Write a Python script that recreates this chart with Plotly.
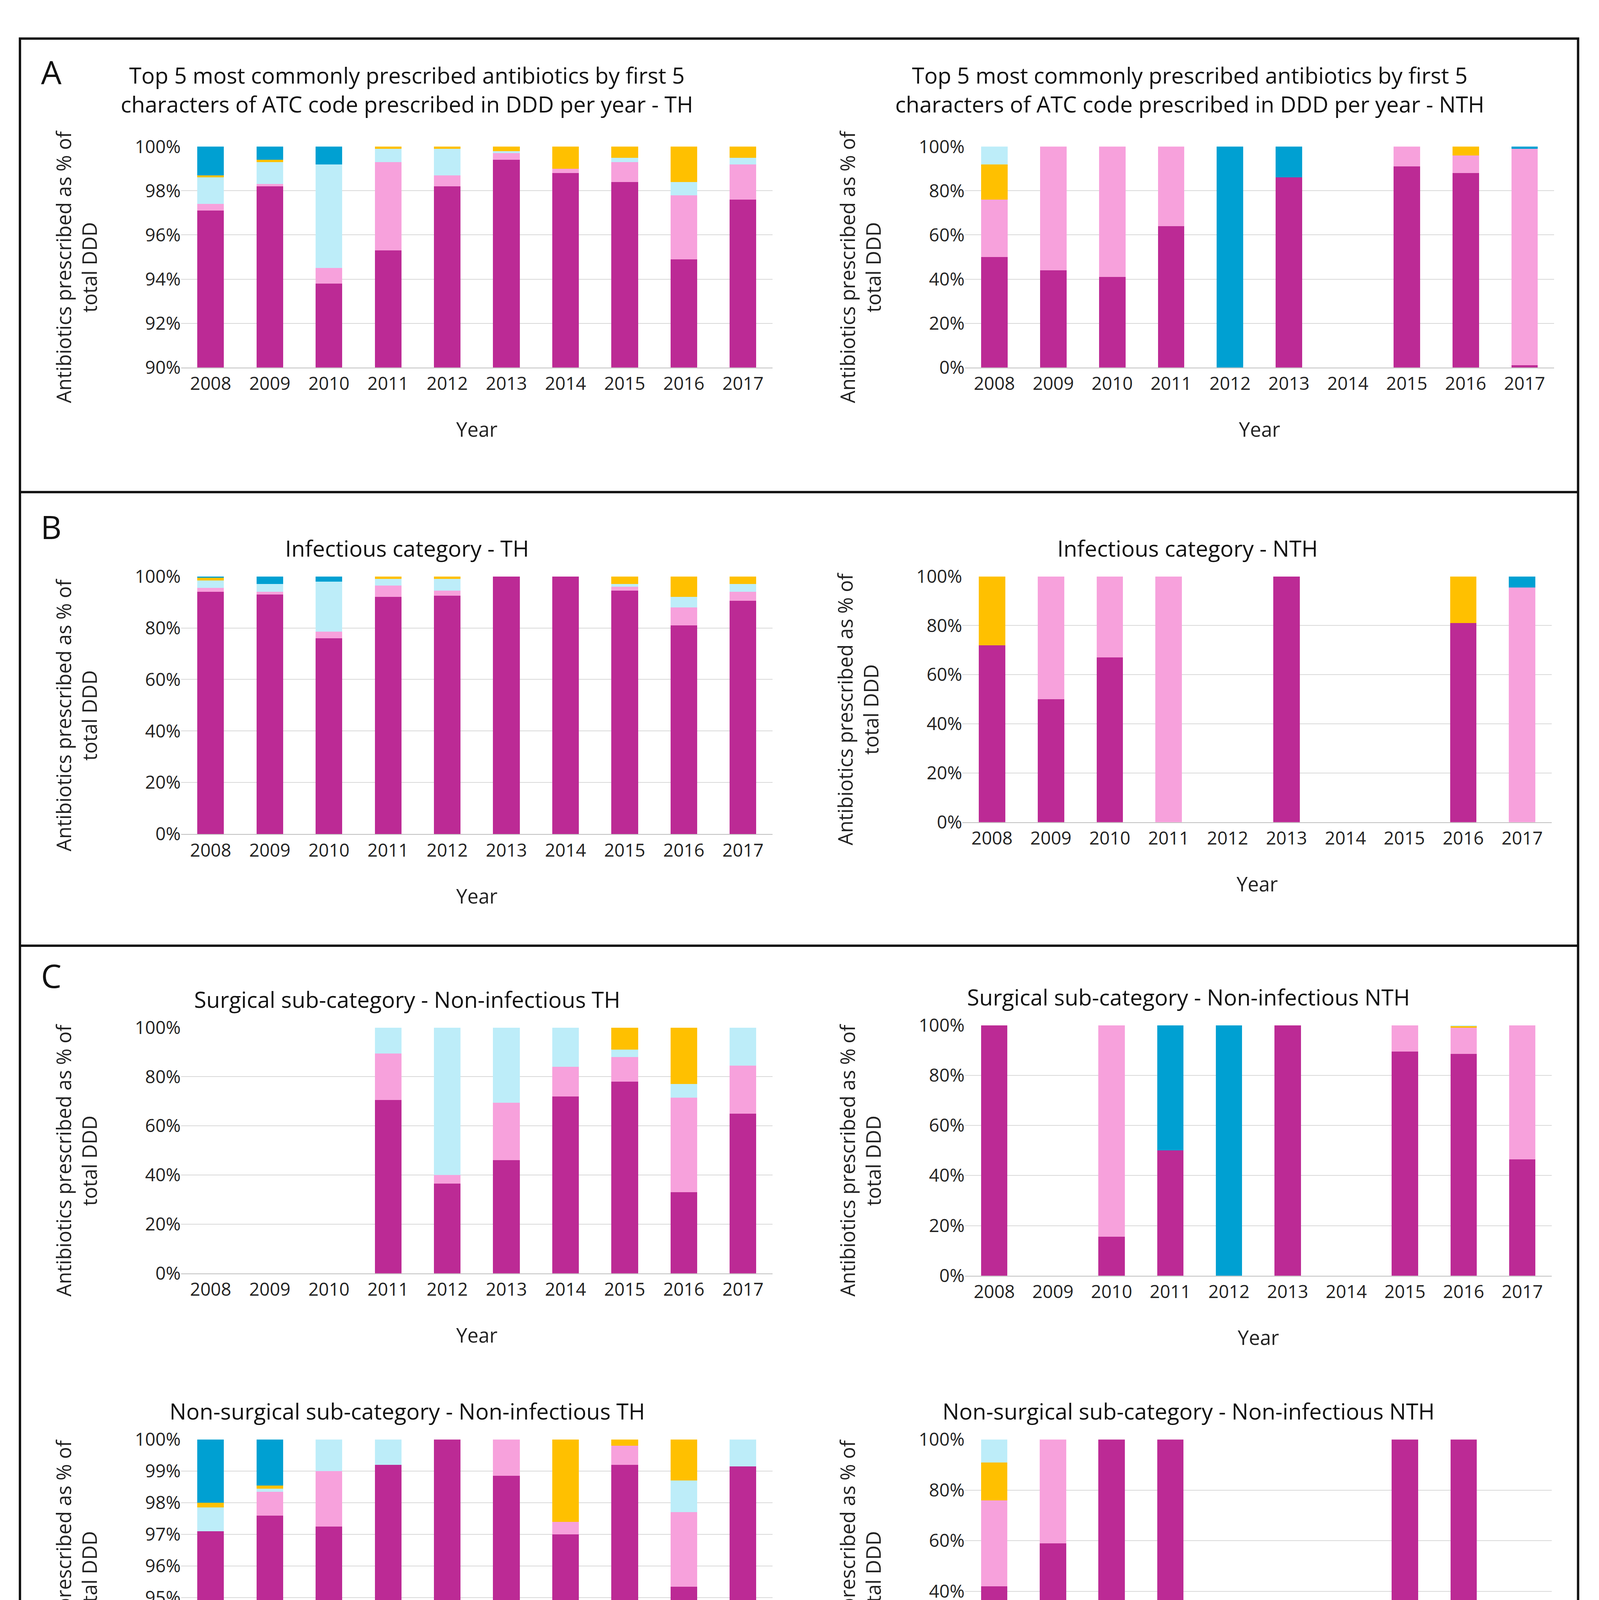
import plotly.graph_objects as go

years = [str(y) for y in range(2008, 2018)]
codes = ["J01MA", "J01DD", "J01GB", "J01CR", "J01DB"]
colors = {"J01MA": "#BC2A95", "J01DD": "#F7A1DC", "J01GB": "#BDEDF9",
          "J01CR": "#FFC000", "J01DB": "#00A0D2"}

# ── DATA (% of total DDD, per year 2008..2017) ───────────────────────────────
a_th = {
    "J01MA": [97.1, 98.2, 93.8, 95.3, 98.2, 99.4, 98.8, 98.4, 94.9, 97.6],
    "J01DD": [0.3, 0.1, 0.7, 4.0, 0.5, 0.3, 0.2, 0.9, 2.9, 1.6],
    "J01GB": [1.2, 1.0, 4.7, 0.6, 1.2, 0.1, 0, 0.2, 0.6, 0.3],
    "J01CR": [0.1, 0.1, 0, 0.1, 0.1, 0.2, 1.0, 0.5, 1.6, 0.5],
    "J01DB": [1.3, 0.6, 0.8, 0, 0, 0, 0, 0, 0, 0],
}
a_nth = {
    "J01MA": [50, 44, 41, 64, 0, 86, 0, 91, 88, 1],
    "J01DD": [26, 56, 59, 36, 0, 0, 0, 9, 8, 98],
    "J01GB": [8, 0, 0, 0, 0, 0, 0, 0, 0, 0],
    "J01CR": [16, 0, 0, 0, 0, 0, 0, 0, 4, 0],
    "J01DB": [0, 0, 0, 0, 100, 14, 0, 0, 0, 1],
}
b_th = {
    "J01MA": [94, 93, 76, 92, 92.5, 100, 100, 94.5, 81, 90.5],
    "J01DD": [1.5, 1, 2.5, 4.5, 2, 0, 0, 1.5, 7, 3.5],
    "J01GB": [3, 3, 19.5, 2.5, 4.5, 0, 0, 1, 4, 3],
    "J01CR": [1, 0, 0, 1, 1, 0, 0, 3, 8, 3],
    "J01DB": [0.5, 3, 2, 0, 0, 0, 0, 0, 0, 0],
}
b_nth = {
    "J01MA": [72, 50, 67, 0, 0, 100, 0, 0, 81, 0],
    "J01DD": [0, 50, 33, 100, 0, 0, 0, 0, 0, 95.5],
    "J01GB": [0, 0, 0, 0, 0, 0, 0, 0, 0, 0],
    "J01CR": [28, 0, 0, 0, 0, 0, 0, 0, 19, 0],
    "J01DB": [0, 0, 0, 0, 0, 0, 0, 0, 0, 4.5],
}
cs_th = {
    "J01MA": [0, 0, 0, 70.5, 36.5, 46, 72, 78, 33, 65],
    "J01DD": [0, 0, 0, 19, 3.5, 23.5, 12, 10, 38.5, 19.5],
    "J01GB": [0, 0, 0, 10.5, 60, 30.5, 16, 3, 5.5, 15.5],
    "J01CR": [0, 0, 0, 0, 0, 0, 0, 9, 23, 0],
    "J01DB": [0, 0, 0, 0, 0, 0, 0, 0, 0, 0],
}
cs_nth = {
    "J01MA": [100, 0, 15.5, 50, 0, 100, 0, 89.5, 88.5, 46.5],
    "J01DD": [0, 0, 84.5, 0, 0, 0, 0, 10.5, 10.5, 53.5],
    "J01GB": [0, 0, 0, 0, 0, 0, 0, 0, 0.4, 0],
    "J01CR": [0, 0, 0, 0, 0, 0, 0, 0, 0.6, 0],
    "J01DB": [0, 0, 0, 50, 100, 0, 0, 0, 0, 0],
}
cn_th = {
    "J01MA": [97.1, 97.6, 97.25, 99.2, 100, 98.85, 97.0, 99.2, 95.35, 99.15],
    "J01DD": [0, 0.75, 1.75, 0, 0, 1.15, 0.4, 0.6, 2.35, 0],
    "J01GB": [0.75, 0.1, 1.0, 0.8, 0, 0, 0, 0, 1.0, 0.85],
    "J01CR": [0.15, 0.1, 0, 0, 0, 0, 2.6, 0.2, 1.3, 0],
    "J01DB": [2.0, 1.45, 0, 0, 0, 0, 0, 0, 0, 0],
}
cn_nth = {
    "J01MA": [42, 59, 100, 100, 0, 0, 0, 100, 100, 0],
    "J01DD": [34, 41, 0, 0, 0, 0, 0, 0, 0, 0],
    "J01GB": [9, 0, 0, 0, 0, 0, 0, 0, 0, 0],
    "J01CR": [15, 0, 0, 0, 0, 0, 0, 0, 0, 0],
    "J01DB": [0, 0, 0, 0, 0, 0, 0, 0, 0, 0],
}

W, H = 1330, 1572  # layout reference coordinates
def px(x): return x / W
def py(y): return 1 - y / H

th_order = ["J01MA", "J01DD", "J01GB", "J01CR", "J01DB"]
nth_order = ["J01MA", "J01DD", "J01CR", "J01GB", "J01DB"]

panels = [
    # data, x0, x1, ytop, ybot, yrange, dtick, title, order
    (a_th, 148, 640, 110, 296, [90, 100], 2,
     "Top 5 most commonly prescribed antibiotics by first 5<br>characters of ATC code prescribed in DDD per year - TH", th_order),
    (a_nth, 800, 1290, 110, 296, [0, 100], 20,
     "Top 5 most commonly prescribed antibiotics by first 5<br>characters of ATC code prescribed in DDD per year - NTH", nth_order),
    (b_th, 148, 640, 472, 689, [0, 100], 20, "Infectious category - TH", th_order),
    (b_nth, 798, 1288, 472, 679, [0, 100], 20, "Infectious category - NTH", nth_order),
    (cs_th, 148, 640, 852, 1059, [0, 100], 20, "Surgical sub-category - Non-infectious TH", th_order),
    (cs_nth, 800, 1288, 850, 1061, [0, 100], 20, "Surgical sub-category - Non-infectious NTH", nth_order),
    (cn_th, 148, 640, 1199, 1412, [92, 100], 1, "Non-surgical sub-category - Non-infectious TH", th_order),
    (cn_nth, 800, 1288, 1199, 1412, [0, 100], 20, "Non-surgical sub-category - Non-infectious NTH", nth_order),
]

S = 4094 / W
FONT = "Open Sans"
fig = go.Figure()
annotations = []
layout = {}

for i, (data, x0, x1, yt, yb, yr, dt, title, order) in enumerate(panels):
    n = i + 1
    xa = "x" if n == 1 else f"x{n}"
    ya = "y" if n == 1 else f"y{n}"
    for code in order:
        fig.add_trace(go.Bar(
            x=years, y=data[code], name=code, marker_color=colors[code],
            marker_line_width=0, xaxis=xa, yaxis=ya,
            legendgroup=code, showlegend=(n == 1),
        ))
    layout[f"xaxis{'' if n == 1 else n}"] = dict(
        domain=[px(x0), px(x1)], anchor=ya, showline=True,
        linecolor="#BFBFBF", linewidth=2, ticks="",
        tickfont=dict(size=15 * S, color="#222"),
    )
    layout[f"yaxis{'' if n == 1 else n}"] = dict(
        domain=[py(yb), py(yt)], anchor=xa, range=yr, dtick=dt,
        ticksuffix="%", showgrid=True, gridcolor="#D9D9D9", gridwidth=2,
        zeroline=False, tickfont=dict(size=15 * S, color="#222"),
    )
    cx = (x0 + x1) / 2
    annotations.append(dict(
        text=title, x=px(cx - 58), y=py(yt - 24 if "<br>" not in title else yt - 48),
        xref="paper", yref="paper", showarrow=False, xanchor="center",
        font=dict(size=18.5 * S, color="#111"), yanchor="middle"))
    annotations.append(dict(
        text="Year", x=px(cx), y=py(yb + 52), xref="paper", yref="paper",
        showarrow=False, xanchor="center",
        font=dict(size=16.5 * S, color="#222"), yanchor="middle"))
    annotations.append(dict(
        text="Antibiotics prescribed as % of<br>total DDD", x=px(x0 - 87),
        y=py((yt + yb) / 2 + 8), xref="paper", yref="paper", textangle=-90,
        xanchor="center", yanchor="middle",
        showarrow=False, font=dict(size=16.5 * S, color="#222")))

for letter, y in [("A", 47), ("B", 430), ("C", 808)]:
    annotations.append(dict(text=letter, x=px(40), y=py(y), xref="paper", yref="paper",
                            xanchor="center", yanchor="middle",
                            showarrow=False, font=dict(size=27 * S, color="#111")))

line = dict(color="#111", width=6)
shapes = [
    dict(type="rect", xref="paper", yref="paper", x0=px(14), x1=px(1310),
         y0=py(1551), y1=py(19), line=line),
    dict(type="line", xref="paper", yref="paper", x0=px(14), x1=px(1310),
         y0=py(401), y1=py(401), line=line),
    dict(type="line", xref="paper", yref="paper", x0=px(14), x1=px(1310),
         y0=py(783), y1=py(783), line=line),
]

fig.update_layout(
    **layout,
    barmode="stack", bargap=0.55,
    width=4094, height=4841, margin=dict(l=0, r=0, t=0, b=0),
    plot_bgcolor="white", paper_bgcolor="white",
    font=dict(family=FONT),
    annotations=annotations, shapes=shapes,
    legend=dict(orientation="h", x=0.5, xanchor="center", y=py(1513),
                yanchor="middle", font=dict(size=19 * S, color="#222"),
                itemwidth=30, traceorder="normal"),
)

fig.write_html("out.html")
